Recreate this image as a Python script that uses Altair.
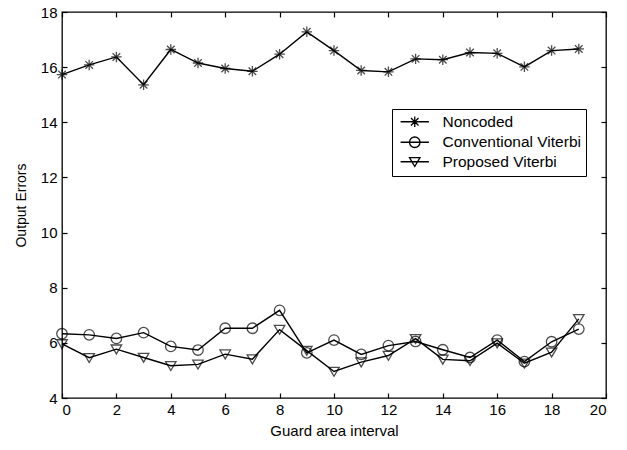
import altair as alt
import pandas as pd

interval = list(range(20))
noncoded = [15.73, 16.08, 16.37, 15.36, 16.64, 16.15, 15.95, 15.85, 16.47, 17.28,
            16.60, 15.88, 15.83, 16.30, 16.27, 16.53, 16.50, 16.01, 16.60, 16.66]
conventional = [6.33, 6.29, 6.16, 6.37, 5.87, 5.74, 6.53, 6.53, 7.18, 5.64,
                6.10, 5.58, 5.90, 6.05, 5.75, 5.47, 6.10, 5.32, 6.04, 6.50]
proposed = [5.96, 5.46, 5.77, 5.47, 5.17, 5.22, 5.59, 5.41, 6.48, 5.72,
            4.96, 5.30, 5.54, 6.15, 5.40, 5.35, 5.99, 5.26, 5.66, 6.87]
series_names = ["Noncoded", "Conventional Viterbi", "Proposed Viterbi"]
x_ticks = list(range(0, 21, 2))
y_ticks = list(range(4, 19, 2))

rows = []
for name, vals in zip(series_names, [noncoded, conventional, proposed]):
    for xi, v in zip(interval, vals):
        rows.append({"interval": xi, "errors": v, "series": name})
df = pd.DataFrame(rows)

FONT = "Liberation Sans"
star = "M-1,0L1,0M0,-1L0,1M-0.72,-0.72L0.72,0.72M-0.72,0.72L0.72,-0.72"
circ = "M-1,0A1,1,0,1,0,1,0A1,1,0,1,0,-1,0"
tri = "M-1,-0.8L1,-0.8L0,0.9Z"
seg = "M-2.7,0L2.7,0"

xs = alt.Scale(domain=[0, 20], nice=False, zero=False)
ys = alt.Scale(domain=[4, 18], nice=False, zero=False)

lines = alt.Chart(df).mark_line(color="black", strokeWidth=1.4).encode(
    x=alt.X("interval:Q", scale=xs, title="Guard area interval",
            axis=alt.Axis(values=x_ticks, orient="bottom", offset=-5, tickSize=5,
                          domain=False, grid=False, labelPadding=4, titlePadding=6,
                          labelFontSize=15, titleFontSize=15, labelFont=FONT,
                          titleFont=FONT, titleFontWeight="normal",
                          labelColor="black", titleColor="black", tickColor="black",
                          tickWidth=1.2)),
    y=alt.Y("errors:Q", scale=ys, title="Output Errors",
            axis=alt.Axis(values=y_ticks, orient="left", offset=-5, tickSize=5,
                          domain=False, grid=False, labelPadding=5, titlePadding=12,
                          labelFontSize=15, titleFontSize=14, labelFont=FONT,
                          titleFont=FONT, titleFontWeight="normal",
                          labelColor="black", titleColor="black", tickColor="black",
                          tickWidth=1.2)),
    detail="series:N",
)

points = alt.Chart(df).mark_point(color="black", filled=False, strokeWidth=1.3, size=110).encode(
    x=alt.X("interval:Q", scale=xs, axis=None),
    y=alt.Y("errors:Q", scale=ys, axis=None),
    shape=alt.Shape("series:N", scale=alt.Scale(domain=series_names, range=[star, circ, tri]),
                    legend=None),
)

legend_layer = alt.Chart(df).mark_point(color="black", filled=False, strokeWidth=1.3,
                                        size=110, opacity=0).encode(
    x=alt.X("interval:Q", scale=xs,
            axis=alt.Axis(values=x_ticks, orient="top", offset=-5, tickSize=5, labels=False,
                          domain=False, grid=False, title=None, tickColor="black",
                          tickWidth=1.2)),
    y=alt.Y("errors:Q", scale=ys,
            axis=alt.Axis(values=y_ticks, orient="right", offset=-5, tickSize=5, labels=False,
                          domain=False, grid=False, title=None, tickColor="black",
                          tickWidth=1.2)),
    shape=alt.Shape("series:N",
                    scale=alt.Scale(domain=series_names,
                                    range=[seg + star, seg + circ, seg + tri]),
                    legend=alt.Legend(title=None, orient="none", legendX=330, legendY=97,
                                      strokeColor="black", fillColor="white", padding=5,
                                      symbolOffset=10, labelOffset=20, rowPadding=2.5,
                                      symbolSize=110, symbolOpacity=1,
                                      symbolStrokeColor="black", symbolStrokeWidth=1.3,
                                      labelFont=FONT, labelFontSize=15.5,
                                      labelColor="black", labelLimit=300)),
)

chart = alt.layer(lines, points, legend_layer).resolve_scale(
    shape="independent"
).resolve_axis(
    x="independent", y="independent"
).properties(
    width=544, height=386, autosize="none",
    padding={"left": 62, "top": 12, "right": 21, "bottom": 52},
    background="white",
).configure_view(stroke="black", strokeWidth=1.3)

chart.save("out.html", embed_options={"renderer": "svg", "actions": False})
